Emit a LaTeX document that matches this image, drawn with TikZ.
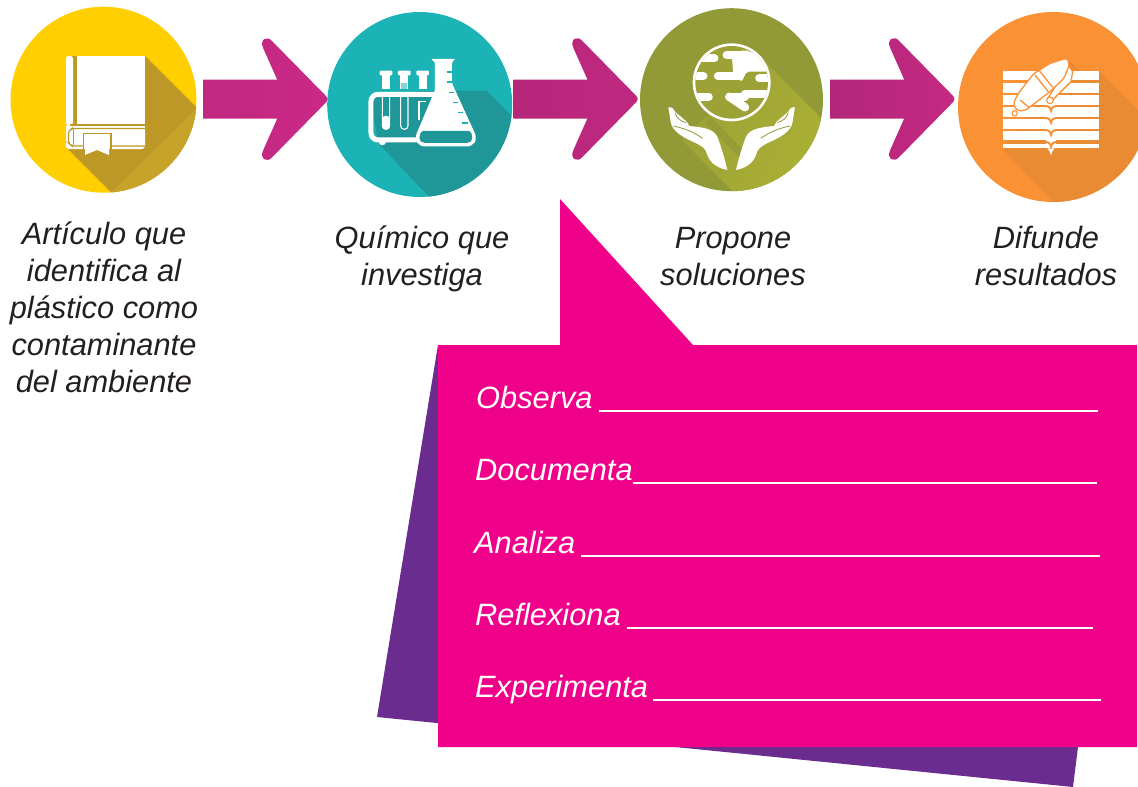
\documentclass[tikz,border=0pt]{standalone}
\usepackage{fontspec}
\setmainfont{Liberation Sans}

\definecolor{bookyellow}{HTML}{FFCF01}
\definecolor{bookshade}{HTML}{BE9827}
\definecolor{booklight}{HTML}{C8A329}
\definecolor{labteal}{HTML}{1BB3B5}
\definecolor{labshade}{HTML}{1F9697}
\definecolor{earthgreen}{HTML}{929A38}
\definecolor{earthmid}{HTML}{9CA236}
\definecolor{earthlight}{HTML}{ABB034}
\definecolor{noteorange}{HTML}{FA9135}
\definecolor{noteshade}{HTML}{E98B33}
\definecolor{notepink}{HTML}{F0018A}
\definecolor{notepurple}{HTML}{6A2C8E}
\definecolor{arrowa}{HTML}{C02882}
\definecolor{arrowb}{HTML}{CB2985}
\definecolor{arrowc}{HTML}{B6277A}
\definecolor{arrowd}{HTML}{C02880}
\definecolor{arrowe}{HTML}{B2277A}
\definecolor{arrowf}{HTML}{C42981}
\definecolor{inktext}{HTML}{231F20}

\tikzset{
	stage/.style={shape=circle, minimum size=#1, inner sep=0pt},
	caption/.style={align=center, font=\fontsize{30.8}{37}\selectfont\itshape, text=inktext, inner sep=0pt},
	prompt/.style={anchor=base west, font=\fontsize{30.8}{37}\selectfont\itshape, text=white, inner sep=0pt},
	answer/.style={white, line width=1.1pt},
	land/.style={white, line width=8.3pt, line cap=round},
	fat arrow/.pic={
		\path[pic actions]
			(0,-19.5) -- (74,-19.5) -- (60,-51) .. controls (56,-60) and (64,-64) .. (69,-58)
			-- (122,-4) .. controls (125,-1) and (125,1) .. (122,4)
			-- (69,58) .. controls (64,64) and (56,60) .. (60,51)
			-- (74,19.5) -- (0,19.5) -- cycle;
	},
}

\begin{document}
\begin{tikzpicture}[x=1pt, y=-1pt]
	\useasboundingbox (0,0) rectangle (1138,787);
	\clip (0,0) rectangle (1138,787);

	% Stages:
	\node[stage=186pt, fill=bookyellow](book) at (103.5, 99.7){};
	\node[stage=185pt, fill=labteal](flask) at (419.7, 104.5){};
	\node[stage=183pt, fill=earthgreen](earth) at (731.5, 99.7){};
	\node[stage=190pt, fill=noteorange](notes) at (1053, 107){};

	% Arrows:
	\path (book.east) ++(6.5, -0.5) pic[left color=arrowa, right color=arrowb]{fat arrow};
	\path (flask.east) ++(1, -5.5) pic[left color=arrowc, right color=arrowd]{fat arrow};
	\path (earth.east) ++(7, -0.7) pic[left color=arrowe, right color=arrowf]{fat arrow};

	% Book:
	\begin{scope}
		\clip (book.center) circle[radius=93];
		\fill[bookshade] (145,56) -- (220,131) -- (160,210) -- (129,210) -- (67,148) -- cycle;
		\fill[booklight] (197,108) -- (110,194) -- (230,198) -- (230,108) -- cycle;
	\end{scope}
	\fill[bookshade] (72,56) rectangle (77,126);
	\fill[white] (76.5,56) rectangle (145,124);
	\fill[white, rounded corners=2.5pt] (66,56) -- (73,56) -- (73,125) -- (66,125) -- cycle;
	\fill[white, rounded corners=3pt] (66,124) -- (145,124) -- (145,149) -- (66,149) -- cycle;
	\draw[bookshade, line width=1.3pt] (145,125) -- (70,125);
	\draw[bookshade, line width=1.2pt, rounded corners=2.5pt] (145,128.5) -- (72,128.5) -- (68.5,131) -- (68.5,143) -- (72,146) -- (145,146);
	\draw[bookshade, line width=1.2pt] (73.5,129) -- (73.5,146);
	\fill[white] (83,133) rectangle (111,148);
	\draw[bookshade, line width=1.3pt] (83.5,156) -- (83.5,133.5) -- (111,133.5) -- (111,156);
	\fill[white] (85,136) -- (109,136) -- (109,155) -- (97,150) -- (85,155) -- cycle;

	% Tubes and flask:
	\begin{scope}[shift={(320,0)}, x=0.3333pt, y=-0.3333pt]
		\begin{scope}
			\clip (flask.center) circle[radius=277.5];
			\fill[labshade] (345,272) -- (500,272) -- (600,372) -- (600,620) -- (355,620) -- (175,430) -- (150,283) -- cycle;
		\end{scope}
		\foreach \tubex in {198, 253, 308}{
			\fill[white, rounded corners=1pt] (\tubex-19,212) rectangle (\tubex+19,226);
			\fill[white] (\tubex-12,226) rectangle (\tubex+12,268);
		}
		\fill[labteal!55!white] (244,249) rectangle (262,268);
		\draw[white, line width=5pt, rounded corners=7pt] (345,283) -- (153,283) -- (153,420) -- (290,420);
		\fill[white] (187,425) circle[radius=11];
		\foreach \tubex in {198, 253}{
			\draw[white, line width=1.1pt, rounded corners=3.5pt] (\tubex-11,290) -- (\tubex-11,388) -- (\tubex+11,388) -- (\tubex+11,290);
		}
		\fill[white, rounded corners=3pt] (187,348) -- (209,348) -- (209,388) -- (187,388) -- cycle;
		\draw[white, line width=1.1pt] (297,360) -- (297,305) -- (318,305);
		\fill[white, rounded corners=1.3pt] (332,177) -- (407,177) -- (396,186) -- (396,250) -- (467,405) -- (467,425) -- (450,439) -- (305,439) -- (288,425) -- (288,405) -- (345,270) -- (345,186) -- cycle;
		\fill[labshade, rounded corners=2pt] (303,393) -- (453,393) -- (458,420) -- (446,429) -- (310,429) -- (297,420) -- cycle;
		\foreach \tickx/\ticky in {388/216, 388/246, 394/277, 407/308, 421/338, 435/369}{
			\draw[labteal, line width=1.1pt] (\tickx-8,\ticky) -- (\tickx+8,\ticky);
		}
	\end{scope}

	% Globe and hands:
	\begin{scope}[shift={(630,0)}, x=0.3333pt, y=-0.3333pt]
		\begin{scope}
			\clip (earth.center) circle[radius=274.5];
			\shade[left color=earthmid, right color=earthlight, shading angle=60]
				(410,190) -- (560,340) -- (600,400) -- (600,600) -- (335,600) -- (155,420) -- (250,330) -- cycle;
			\fill[earthgreen!85!earthlight] (240,350) -- (340,450) -- (328,472) -- (225,370) -- cycle;
		\end{scope}
		\fill[white] (305,247) circle[radius=117];
		\fill[earthmid] (305,247) circle[radius=109];
		\begin{scope}
			\clip (305,247) circle[radius=109];
			\draw[land] (180,175) -- (253,175);
			\draw[land] (290,165) -- (335,165);
			\fill[white, rounded corners=2pt] (305,160) -- (345,150) -- (430,180) -- (430,215) -- (350,215) -- (335,245) -- (310,225) -- cycle;
			\draw[land] (264,228) -- (330,228);
			\draw[land] (388,235) -- (430,235);
			\draw[land] (180,228) -- (220,228);
			\draw[land] (180,290) -- (236,290);
			\draw[land] (298,290) -- (345,290);
			\draw[land] (345,282) -- (420,282);
			\draw[land] (298,290) -- (345,322);
		\end{scope}
		\foreach \mirror in {1,-1}{
			\begin{scope}[shift={(305,0)}, xscale=\mirror, shift={(-305,0)}]
				\fill[white] (115,322) .. controls (125,320) and (130,325) .. (135,335) -- (170,365) -- (178,378) .. controls (215,382) and (250,385) .. (262,410) .. controls (275,445) and (285,480) .. (292,510) .. controls (265,505) and (240,490) .. (232,465) .. controls (228,445) and (215,438) .. (195,428) .. controls (165,415) and (125,395) .. (122,365) -- cycle;
				\draw[earthgreen, line width=0.8pt] (135,338) .. controls (140,355) and (150,362) .. (168,368);
				\draw[earthgreen, line width=0.8pt] (130,378) .. controls (160,385) and (180,390) .. (218,415);
			\end{scope}
		}
	\end{scope}

	% Notebook and pen:
	\begin{scope}[shift={(940,0)}, x=0.3333pt, y=-0.3333pt]
		\begin{scope}
			\clip (notes.center) circle[radius=285];
			\fill[noteshade] (385,180) -- (420,212) -- (477,212) -- (620,355) -- (620,620) -- (355,620) -- (188,447) -- cycle;
		\end{scope}
		\foreach \bandtop/\bandbot in {212/240, 248/278, 285/315, 322/350, 358/386, 393/421}{
			\fill[white] (190,\bandtop) rectangle (477,\bandbot);
		}
		\fill[white] (190,431) rectangle (477,445);
		\fill[white] (318,240) rectangle (348,445);
		\fill[white] (322,445) .. controls (328,450) and (331,458) .. (333,466) .. controls (335,458) and (338,450) .. (344,445) -- cycle;
		\foreach \foldy in {318, 354, 390, 426}{
			\draw[noteorange, line width=2pt] (314,\foldy) .. controls (325,\foldy) and (331,\foldy+4) .. (333,\foldy+14) .. controls (335,\foldy+4) and (341,\foldy) .. (352,\foldy);
		}
		\draw[noteorange, line width=1.3pt, fill=white, line join=round] (385,195) -- (398,215) -- (393,245) -- (340,298) -- (322,298) -- cycle;
		\fill[white, draw=noteorange, line width=1.1pt] (330,301) circle[radius=10];
		\draw[noteorange, line width=1.3pt, fill=white, rounded corners=3pt] (382,174) -- (388,195) -- (372,235) -- (330,275) -- (255,332) -- (230,332) -- (220,310) -- (235,280) -- (280,222) -- (330,190) -- cycle;
		\draw[noteorange, line width=1.3pt] (285,225) -- (325,275) (298,212) -- (338,262);
		\draw[noteorange, line width=1.3pt] (240,300) -- (268,323);
		\fill[white, draw=noteorange, line width=1.1pt] (224,340) circle[radius=8];
	\end{scope}

	% Captions:
	\node[caption](booktext) at (104, 307){Artículo que\\identifica al\\plástico como\\contaminante\\del ambiente};
	\node[caption](flasktext) at (422, 259){Químico que\\investiga};
	\node[caption](earthtext) at (733, 256.5){Propone\\soluciones};
	\node[caption](notestext) at (1046, 255.5){Difunde\\resultados};

	% Callout:
	\fill[notepurple] (438,345) -- (377,717) -- (1073,787) -- (1078,747) -- (1000,500) -- cycle;
	\fill[notepink] (560,199) -- (693,345) -- (1137,345) -- (1137,747) -- (438,747) -- (438,345) -- (560,345) -- cycle;

	% Lines to fill in:
	\node[prompt](observa) at (476, 408){Observa};
	\node[prompt](documenta) at (475, 480){Documenta};
	\node[prompt](analiza) at (474, 553){Analiza};
	\node[prompt](reflexiona) at (475, 625){Reflexiona};
	\node[prompt](experimenta) at (475, 697){Experimenta};
	\coordinate (observaend) at (1098, 411);
	\coordinate (documentaend) at (1097, 483);
	\coordinate (analizaend) at (1100, 556);
	\coordinate (reflexionaend) at (1093, 628);
	\coordinate (experimentaend) at (1101, 700);
	\draw[answer] (observa.east |- observaend) ++(6,0) -- (observaend);
	\draw[answer] (documenta.east |- documentaend) -- (documentaend);
	\draw[answer] (analiza.east |- analizaend) ++(6,0) -- (analizaend);
	\draw[answer] (reflexiona.east |- reflexionaend) ++(6,0) -- (reflexionaend);
	\draw[answer] (experimenta.east |- experimentaend) ++(5,0) -- (experimentaend);
\end{tikzpicture}
\end{document}
